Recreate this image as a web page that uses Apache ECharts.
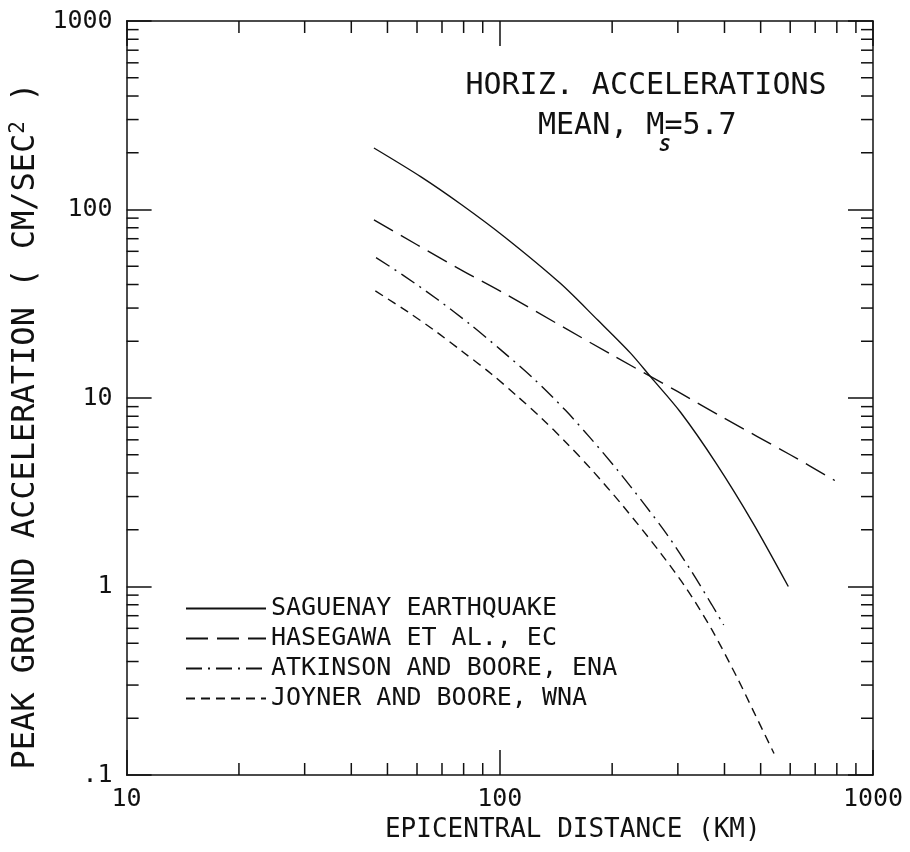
<!DOCTYPE html>
<html>
<head>
<meta charset="utf-8">
<script src="https://cdn.jsdelivr.net/npm/echarts@6/dist/echarts.min.js"></script>
<style>
  html, body { margin: 0; padding: 0; background: #fff; }
  #chart { width: 910px; height: 852px; }
</style>
</head>
<body>
<div id="chart"></div>
<script>
// distance (km), peak acceleration (cm/sec^2)
const saguenay = [[46, 212], [61.5, 149], [79, 106], [103, 71.5], [145, 40.7], [183, 25.9],
  [224, 17.3], [254, 12.9], [305, 8.4], [380, 4.5], [477, 2.17], [593, 1.0]];
const hasegawa = [[46, 88], [60, 65], [80, 47], [100, 37], [150, 23.4], [200, 16.9],
  [300, 10.8], [400, 7.8], [600, 5.0], [790, 3.65]];
const atkinson = [[46.6, 55.5], [55, 44.9], [68, 33.4], [83, 24.7], [100.6, 18], [123, 12.7],
  [150, 8.6], [174, 6.2], [206, 4.18], [243, 2.76], [281, 1.88], [324, 1.23], [370, 0.8], [398, 0.625]];
const joyner = [[46.4, 37], [56.6, 28.7], [67.5, 22.5], [79.5, 17.6], [94.6, 13.5], [111.5, 10.2],
  [130, 7.74], [150, 5.85], [175, 4.23], [213, 2.7], [270, 1.5], [318, 0.96], [370, 0.59],
  [432, 0.33], [480, 0.215], [543, 0.13]];

const seriesNames = ["SAGUENAY EARTHQUAKE", "HASEGAWA ET AL., EC", "ATKINSON AND BOORE, ENA", "JOYNER AND BOORE, WNA"];

// minor tick values (2..9 of each decade)
const xMinorTicks = [20, 30, 40, 50, 60, 70, 80, 90, 200, 300, 400, 500, 600, 700, 800, 900];
const yMinorTicks = [0.2, 0.3, 0.4, 0.5, 0.6, 0.7, 0.8, 0.9, 2, 3, 4, 5, 6, 7, 8, 9,
  20, 30, 40, 50, 60, 70, 80, 90, 200, 300, 400, 500, 600, 700, 800, 900];

const FONT = "'DejaVu Sans Mono', monospace";
const INK = "#111";

const chart = echarts.init(document.getElementById("chart"));

function lineSeries(name, data, dash) {
  return {
    name: name,
    type: "line",
    data: data,
    smooth: 0.3,
    symbol: "none",
    lineStyle: { color: INK, width: 1.4, type: dash },
    itemStyle: { color: INK },
  };
}

const tickData = xMinorTicks.map((v) => [v, 1, 0]).concat(yMinorTicks.map((v) => [10, v, 1]));

const axisCommon = {
  type: "log",
  logBase: 10,
  axisLine: { show: true, lineStyle: { color: INK, width: 1.5 } },
  axisTick: { show: true, inside: true, length: 25, lineStyle: { color: INK, width: 1.5 } },
  splitLine: { show: false },
  minorTick: { show: false },
};

const option = {
  animation: false,
  backgroundColor: "#fff",
  grid: { left: 125, right: 37, top: 21, bottom: 77 },
  xAxis: [
    Object.assign({}, axisCommon, {
      position: "bottom",
      min: 10,
      max: 1000,
      name: "EPICENTRAL DISTANCE (KM)",
      nameLocation: "middle",
      nameGap: 42,
      nameTextStyle: { fontFamily: FONT, fontSize: 26, color: INK, padding: [0, 0, 0, 146] },
      axisLabel: {
        color: INK,
        fontFamily: FONT,
        fontSize: 25,
        margin: 12,
        formatter: function (v) {
          return String(Math.round(v));
        },
      },
    }),
    Object.assign({}, axisCommon, {
      position: "top",
      min: 10,
      max: 1000,
      axisLabel: { show: false },
    }),
  ],
  yAxis: [
    Object.assign({}, axisCommon, {
      position: "left",
      min: 0.1,
      max: 1000,
      name: "PEAK GROUND ACCELERATION ( CM/SEC{sup|2} )",
      nameLocation: "middle",
      nameGap: 78,
      nameRotate: 90,
      nameTextStyle: {
        fontFamily: FONT,
        fontSize: 32,
        color: INK,
        padding: [0, 56, 0, 0],
        rich: { sup: { fontFamily: FONT, fontSize: 21, color: INK, padding: [0, 0, 14, 0] } },
      },
      axisLabel: {
        color: INK,
        fontFamily: FONT,
        fontSize: 25,
        margin: 14,
        formatter: function (v) {
          return v < 1 ? ".1" : String(Math.round(v));
        },
      },
    }),
    Object.assign({}, axisCommon, {
      position: "right",
      min: 0.1,
      max: 1000,
      axisLabel: { show: false },
    }),
  ],
  legend: {
    data: seriesNames,
    orient: "vertical",
    left: 185,
    top: 596,
    padding: 0,
    itemWidth: 80,
    itemHeight: 14,
    itemGap: 5,
    itemStyle: { opacity: 0 },
    textStyle: { color: INK, fontFamily: FONT, fontSize: 25, lineHeight: 24 },
    inactiveColor: INK,
    selectedMode: false,
  },
  graphic: [
    {
      type: "text",
      x: 646,
      y: 86,
      style: { text: "HORIZ. ACCELERATIONS", font: "30px " + FONT, fill: INK, align: "center", verticalAlign: "middle" },
    },
    {
      type: "text",
      x: 538,
      y: 126,
      style: { text: "MEAN, M=5.7", font: "30px " + FONT, fill: INK, align: "left", verticalAlign: "middle" },
    },
    {
      type: "text",
      x: 665,
      y: 146,
      style: { text: "S", font: "italic bold 18px " + FONT, fill: INK, align: "center", verticalAlign: "middle" },
    },
  ],
  series: [
    lineSeries(seriesNames[0], saguenay, "solid"),
    lineSeries(seriesNames[1], hasegawa, [22, 9]),
    lineSeries(seriesNames[2], atkinson, [16, 6, 2, 6]),
    lineSeries(seriesNames[3], joyner, [9, 6]),
    {
      // minor ticks drawn inside the frame on all four sides
      type: "custom",
      silent: true,
      data: tickData,
      encode: { x: 0, y: 1 },
      renderItem: function (params, api) {
        const cs = params.coordSys;
        const style = { stroke: INK, lineWidth: 1.5 };
        const len = 12;
        if (api.value(2) === 0) {
          const x = api.coord([api.value(0), 1])[0];
          return {
            type: "group",
            children: [
              { type: "line", shape: { x1: x, y1: cs.y + cs.height, x2: x, y2: cs.y + cs.height - len }, style: style },
              { type: "line", shape: { x1: x, y1: cs.y, x2: x, y2: cs.y + len }, style: style },
            ],
          };
        }
        const y = api.coord([10, api.value(1)])[1];
        return {
          type: "group",
          children: [
            { type: "line", shape: { x1: cs.x, y1: y, x2: cs.x + len, y2: y }, style: style },
            { type: "line", shape: { x1: cs.x + cs.width, y1: y, x2: cs.x + cs.width - len, y2: y }, style: style },
          ],
        };
      },
    },
  ],
};

chart.setOption(option);
</script>
</body>
</html>
